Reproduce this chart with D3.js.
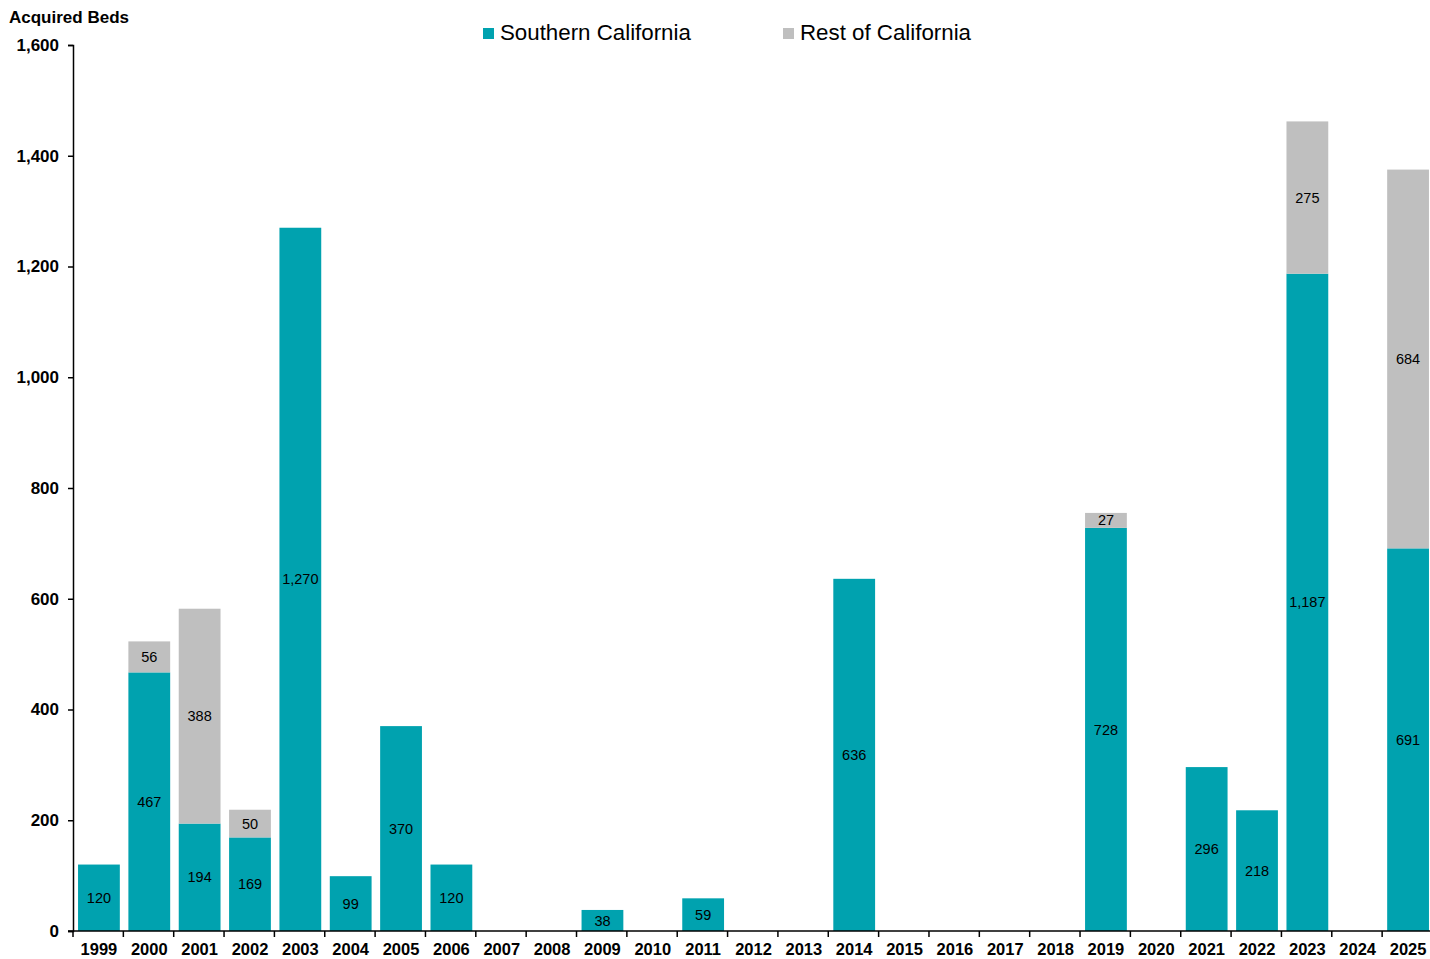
<!DOCTYPE html>
<html>
<head>
<meta charset="utf-8">
<script src="https://cdn.jsdelivr.net/npm/d3@7"></script>
<style>
  body { margin: 0; background: #fff; }
  svg { display: block; font-family: "Liberation Sans", Arial, sans-serif; }
</style>
</head>
<body>
<svg id="chart" width="1430" height="959"></svg>
<script>
// Years along the x axis
const years = ['1999', '2000', '2001', '2002', '2003', '2004', '2005', '2006', '2007', '2008', '2009', '2010', '2011',
  '2012', '2013', '2014', '2015', '2016', '2017', '2018', '2019', '2020', '2021', '2022', '2023', '2024', '2025'];
// Acquired beds per year
const southern = [120, 467, 194, 169, 1270, 99, 370, 120, 0, 0, 38, 0, 59, 0, 0, 636, 0, 0, 0, 0, 728, 0, 296, 218, 1187, 0, 691];
const rest = [0, 56, 388, 50, 0, 0, 0, 0, 0, 0, 0, 0, 0, 0, 0, 0, 0, 0, 0, 0, 27, 0, 0, 0, 275, 0, 684];
const seriesNames = ['Southern California', 'Rest of California'];
const yTicks = [0, 200, 400, 600, 800, 1000, 1200, 1400, 1600];

const colors = ['#00A2AF', '#BFBFBF'];

const svg = d3.select('#chart');
const mLeft = 73, mRight = 1434, mTop = 45, mBottom = 931;

const x = d3.scaleBand().domain(years).range([mLeft, mRight]).paddingInner(0.17).paddingOuter(0.1);
const y = d3.scaleLinear().domain([0, 1600]).range([mBottom, mTop]);

// stack the two series
const rows = years.map((yr, i) => ({ year: yr, s: southern[i], r: rest[i] }));
const stacked = d3.stack().keys(['s', 'r'])(rows);

const layers = svg.append('g').selectAll('g')
  .data(stacked)
  .enter().append('g')
  .attr('fill', (d, i) => colors[i]);

layers.selectAll('rect')
  .data(d => d.filter(p => p[1] - p[0] > 0))
  .enter().append('rect')
  .attr('x', d => x(d.data.year))
  .attr('width', x.bandwidth())
  .attr('y', d => y(d[1]))
  .attr('height', d => y(d[0]) - y(d[1]));

// value labels in the middle of each segment
layers.selectAll('text')
  .data(d => d.filter(p => p[1] - p[0] > 0))
  .enter().append('text')
  .attr('x', d => x(d.data.year) + x.bandwidth() / 2)
  .attr('y', d => (y(d[0]) + y(d[1])) / 2)
  .attr('dy', '0.35em')
  .attr('text-anchor', 'middle')
  .attr('font-size', 14.5)
  .attr('fill', '#000')
  .text(d => d3.format(',')(d[1] - d[0]));

// y axis
const yAxis = svg.append('g')
  .attr('transform', `translate(${mLeft},0)`)
  .call(d3.axisLeft(y).tickValues(yTicks).tickSize(5).tickPadding(9).tickFormat(d3.format(',')));
yAxis.select('.domain').attr('stroke', '#000').attr('stroke-width', 1.5);
yAxis.selectAll('.tick line').attr('stroke', '#000').attr('stroke-width', 1.5);
yAxis.selectAll('text').attr('font-size', 17).attr('font-weight', 'bold').attr('fill', '#000')
  .attr('font-family', '"Liberation Sans", Arial, sans-serif');

// x axis with ticks at category boundaries
const xAxisG = svg.append('g');
xAxisG.append('line')
  .attr('x1', mLeft - 5).attr('x2', 1430)
  .attr('y1', mBottom).attr('y2', mBottom)
  .attr('stroke', '#000').attr('stroke-width', 1.5);
const step = x.step();
const bounds = d3.range(years.length + 1).map(i => mLeft + i * step);
xAxisG.selectAll('.xt')
  .data(bounds)
  .enter().append('line')
  .attr('x1', d => d).attr('x2', d => d)
  .attr('y1', mBottom).attr('y2', mBottom + 6)
  .attr('stroke', '#000').attr('stroke-width', 1.5);
xAxisG.selectAll('.xl')
  .data(years)
  .enter().append('text')
  .attr('x', d => x(d) + x.bandwidth() / 2)
  .attr('y', 955)
  .attr('text-anchor', 'middle')
  .attr('font-size', 16.5)
  .attr('font-weight', 'bold')
  .text(d => d);

// axis title
svg.append('text')
  .attr('x', 9).attr('y', 23)
  .attr('font-size', 17).attr('font-weight', 'bold')
  .text('Acquired Beds');

// legend
const legendX = [483, 783];
const legend = svg.append('g').selectAll('g')
  .data(seriesNames)
  .enter().append('g')
  .attr('transform', (d, i) => `translate(${legendX[i]},28)`);
legend.append('rect').attr('width', 11).attr('height', 11).attr('fill', (d, i) => colors[i]);
legend.append('text').attr('x', 17).attr('y', 12).attr('font-size', 22.3).text(d => d);
</script>
</body>
</html>
